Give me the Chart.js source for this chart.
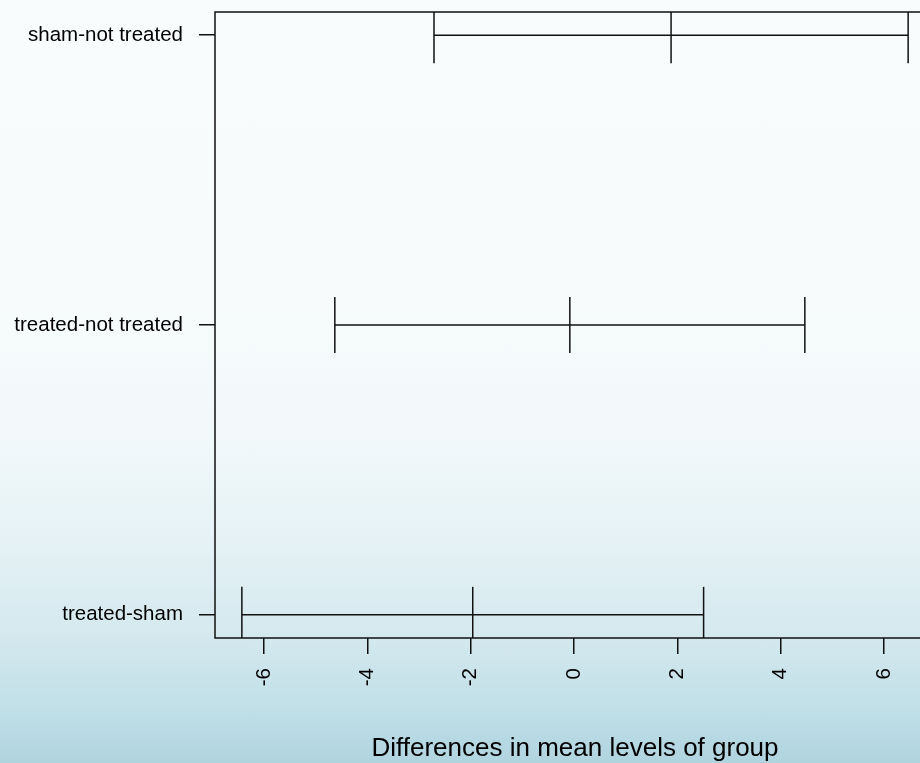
<!DOCTYPE html>
<html>
<head>
<meta charset="utf-8">
<script src="https://cdn.jsdelivr.net/npm/chart.js@4/dist/chart.umd.min.js"></script>
<style>
  html, body { margin: 0; padding: 0; }
  body {
    width: 920px; height: 763px; overflow: hidden;
    background: linear-gradient(to bottom, #f9fcfd 0%, #f7fbfc 40%, #f1f8fa 58%, #e4f1f5 72%, #d3e8ee 84%, #c0dfe7 93%, #b0d4df 100%);
  }
  .wrap { position: absolute; left: 0; top: 0; width: 920px; height: 763px; overflow: hidden; }
</style>
</head>
<body>
<div class="wrap">
  <canvas id="tukeyChart" width="940" height="763"></canvas>
</div>
<script>
// Tukey HSD comparisons (top to bottom)
const comparisons = ['sham-not treated', 'treated-not treated', 'treated-sham'];
const diffs = [1.88, -0.08, -1.96];
const lowers = [-2.71, -4.63, -6.43];
const uppers = [6.47, 4.47, 2.51];

// Axis ticks and limits
const xTicks = [-6, -4, -2, 0, 2, 4, 6];
const xMin = -6.95;
const xMax = 6.99;
const xTitle = 'Differences in mean levels of group';

const fontFamily = '"Liberation Sans", Arial, Helvetica, sans-serif';
const ink = '#111';

// one dataset per comparison: horizontal line lwr -> upr, with vertical caps at lwr, diff, upr
const datasets = comparisons.map((name, i) => ({
    label: name,
    data: [
        { x: lowers[i], y: i + 1 },
        { x: diffs[i], y: i + 1 },
        { x: uppers[i], y: i + 1 }
    ],
    showLine: true,
    borderColor: ink,
    borderWidth: 1.5,
    pointStyle: 'line',
    pointRotation: 90,
    pointRadius: 28,
    pointBorderWidth: 1.5,
    pointBorderColor: ink,
    pointHoverRadius: 28,
    clip: 0
}));

// plot box (R style frame)
const frameBox = {
    id: 'frameBox',
    afterDraw(chart) {
        const { ctx, chartArea: a } = chart;
        ctx.save();
        ctx.strokeStyle = ink;
        ctx.lineWidth = 1.5;
        ctx.strokeRect(a.left, a.top, a.right - a.left, a.bottom - a.top);
        ctx.restore();
    }
};

const ctx = document.getElementById('tukeyChart').getContext('2d');
const tukeyChart = new Chart(ctx, {
    type: 'scatter',
    data: { datasets: datasets },
    options: {
        responsive: false,
        animation: false,
        devicePixelRatio: 1,
        layout: { autoPadding: false, padding: { top: 12, right: 5, left: 0, bottom: 0 } },
        scales: {
            x: {
                type: 'linear',
                min: xMin,
                max: xMax,
                afterBuildTicks: scale => { scale.ticks = xTicks.map(v => ({ value: v })); },
                afterFit: scale => {
                    scale.height = 125;
                    scale.paddingLeft = 0;
                    scale.paddingRight = 0;
                },
                grid: { drawOnChartArea: false, color: ink, lineWidth: 1.5, tickLength: 16 },
                border: { display: false },
                ticks: {
                    color: '#000',
                    font: { family: fontFamily, size: 20.5 },
                    maxRotation: 90,
                    minRotation: 90,
                    padding: 14,
                    autoSkip: false
                },
                title: {
                    display: true,
                    text: xTitle,
                    color: '#000',
                    font: { family: fontFamily, size: 26, lineHeight: 1.1 },
                    padding: { top: 0, bottom: 0 }
                }
            },
            y: {
                type: 'linear',
                min: 0.92,
                max: 3.08,
                reverse: true,
                afterBuildTicks: scale => { scale.ticks = comparisons.map((c, i) => ({ value: i + 1 })); },
                afterFit: scale => {
                    scale.width = 215;
                    scale.paddingTop = 0;
                    scale.paddingBottom = 0;
                },
                grid: { drawOnChartArea: false, color: ink, lineWidth: 1.5, tickLength: 16 },
                border: { display: false },
                ticks: {
                    color: '#000',
                    font: { family: fontFamily, size: 20.5 },
                    padding: 16,
                    autoSkip: false,
                    callback: value => comparisons[Math.round(value) - 1]
                }
            }
        },
        plugins: {
            legend: { display: false },
            tooltip: { enabled: false }
        }
    },
    plugins: [frameBox]
});
</script>
</body>
</html>
